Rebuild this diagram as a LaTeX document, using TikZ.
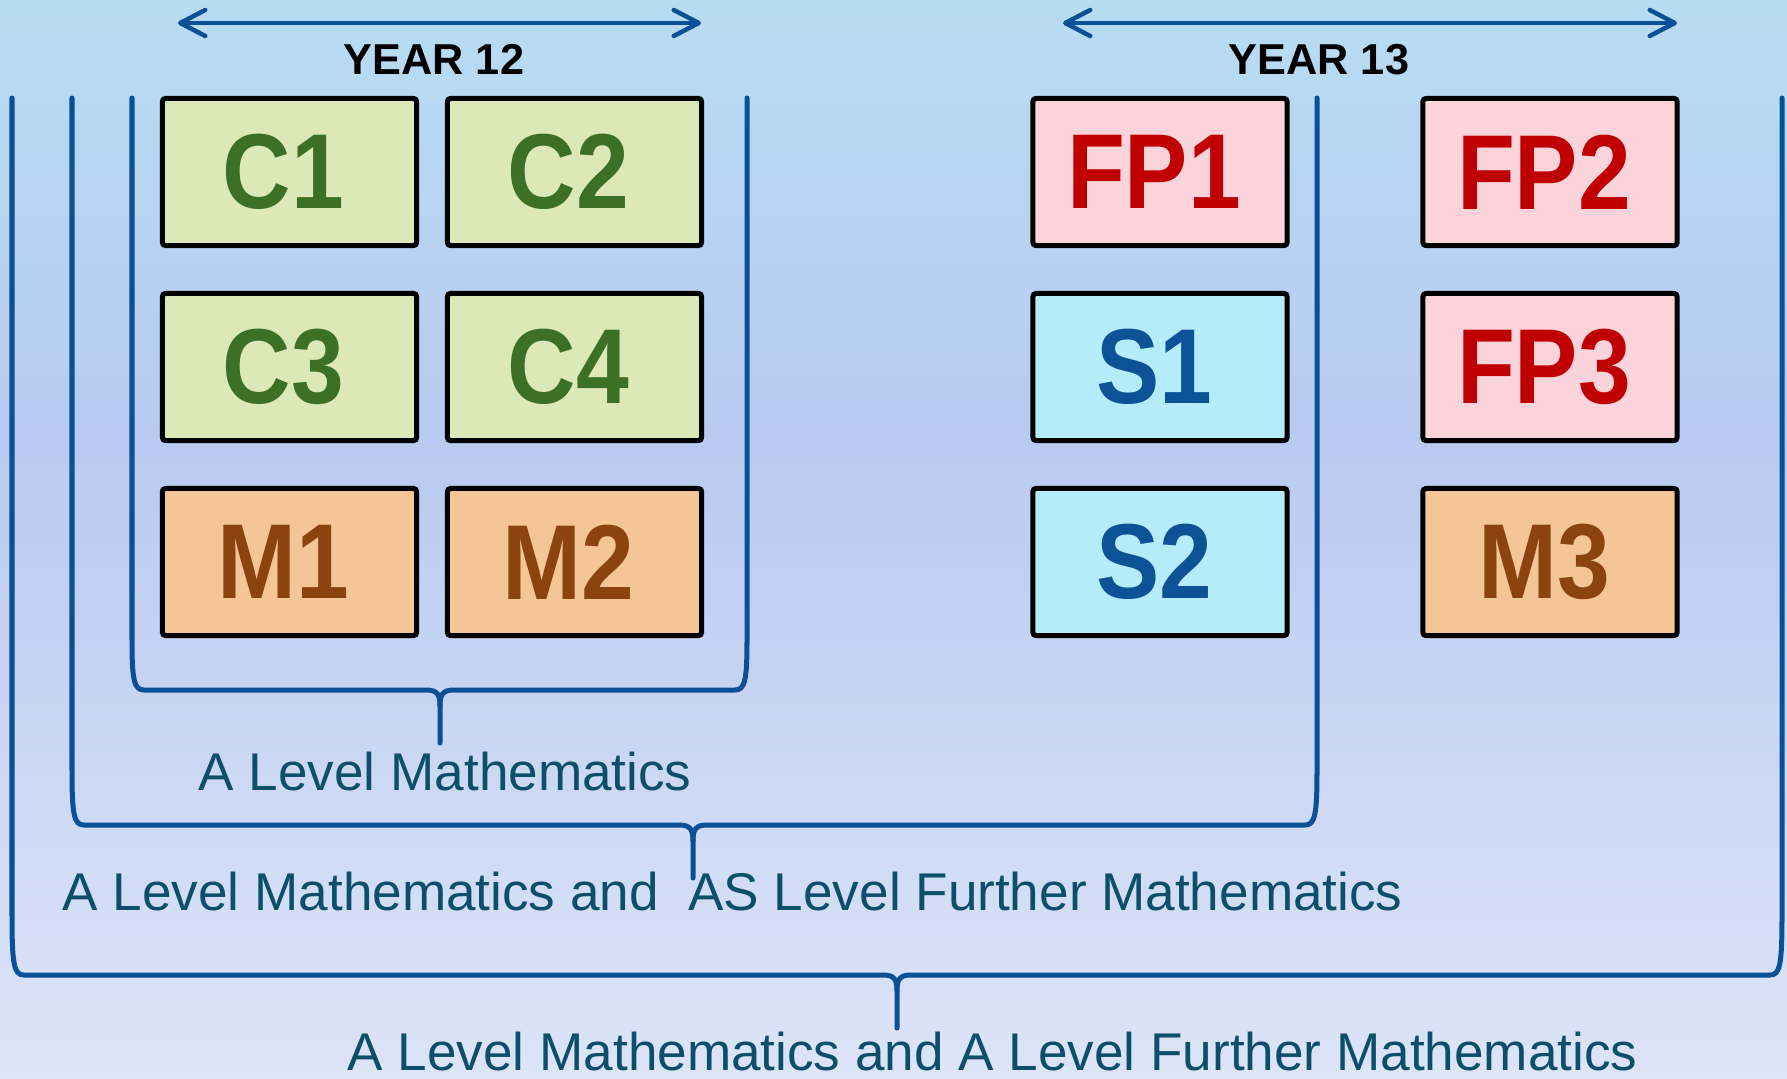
\documentclass[tikz,border=0pt]{standalone}
\usepackage{fontspec}
\setmainfont{Liberation Sans}
\newfontfamily\boxfont[FakeStretch=0.89]{Liberation Sans}
\usetikzlibrary{arrows.meta}
\definecolor{bgtop}{RGB}{183,221,242}
\definecolor{bgmid}{RGB}{184,202,240}
\definecolor{bgbot}{RGB}{221,228,248}
\definecolor{brblue}{RGB}{10,80,150}
\definecolor{labteal}{RGB}{11,80,104}
\definecolor{gfill}{RGB}{221,232,185}
\definecolor{gtext}{RGB}{59,112,38}
\definecolor{pfill}{RGB}{251,211,218}
\definecolor{ptext}{RGB}{192,0,0}
\definecolor{cfill}{RGB}{181,236,250}
\definecolor{ctext}{RGB}{13,82,150}
\definecolor{ofill}{RGB}{244,197,149}
\definecolor{otext}{RGB}{139,68,16}
\pgfdeclareverticalshading{bgshade}{100bp}{color(0bp)=(bgbot); color(25bp)=(bgbot); color(55bp)=(bgmid); color(75bp)=(bgtop); color(100bp)=(bgtop)}
\tikzset{
  modbox/.style={draw=black, line width=0.05cm, rounded corners=0.03cm,
    minimum width=2.54cm, minimum height=1.47cm, inner sep=0pt,
    font=\fontsize{30.3}{36}\boxfont\bfseries,
    execute at end node={\hspace*{0.12cm}}},
  greenbox/.style={modbox, fill=gfill, text=gtext},
  pinkbox/.style={modbox, fill=pfill, text=ptext},
  cyanbox/.style={modbox, fill=cfill, text=ctext},
  orangebox/.style={modbox, fill=ofill, text=otext},
  yearlabel/.style={anchor=base, inner sep=0pt, font=\fontsize{12.3}{14}\selectfont\bfseries, text=black},
  bracelabel/.style={anchor=base west, inner sep=0pt, font=\fontsize{15.1}{18}\selectfont, text=labteal},
  bracket/.style={draw=brblue, line width=0.05cm, line cap=round, line join=round},
  yeararrow/.style={draw=brblue, line width=0.045cm, line cap=round,
    {Straight Barb[length=0.25cm, width=0.26cm, round]}-{Straight Barb[length=0.25cm, width=0.26cm, round]}}
}
\begin{document}
\begin{tikzpicture}[x=0.01cm, y=-0.01cm]
\useasboundingbox (0,0) rectangle (1787,1078);
\shade[shading=bgshade] (0,0) rectangle (1787,1078);

% year arrows
\coordinate (y12a) at (178,23);
\coordinate (y12b) at (701,23);
\coordinate (y13a) at (1063,23);
\coordinate (y13b) at (1677,23);
\draw[yeararrow] (y12a) -- (y12b);
\draw[yeararrow] (y13a) -- (y13b);
\node[yearlabel] (year12) at (434,74) {YEAR 12};
\node[yearlabel] (year13) at (1319,74) {YEAR 13};

% brackets
\draw[bracket] (132,98) -- (132,640) .. controls (132,680) and (134,690) .. (144,690)
  -- (426,690) .. controls (437,690) and (440,694) .. (440,706) -- (440,743);
\draw[bracket] (440,706) .. controls (440,694) and (443,690) .. (454,690)
  -- (735,690) .. controls (745,690) and (747,680) .. (747,640) -- (747,98);

\draw[bracket] (72,98) -- (72,770) .. controls (72,815) and (74,825) .. (84,825)
  -- (679,825) .. controls (690,825) and (693,829) .. (693,841) -- (693,878);
\draw[bracket] (693,841) .. controls (693,829) and (696,825) .. (707,825)
  -- (1305,825) .. controls (1315,825) and (1317,815) .. (1317,770) -- (1317,98);

\draw[bracket] (12,98) -- (12,915) .. controls (12,965) and (14,975) .. (24,975)
  -- (883,975) .. controls (894,975) and (897,979) .. (897,991) -- (897,1028);
\draw[bracket] (897,991) .. controls (897,979) and (900,975) .. (911,975)
  -- (1770,975) .. controls (1780,975) and (1782,965) .. (1782,915) -- (1782,98);

% module boxes
\node[greenbox] (C1) at (289.5,172) {C1};
\node[greenbox] (C2) at (574.5,172) {C2};
\node[greenbox] (C3) at (289.5,367) {C3};
\node[greenbox] (C4) at (574.5,367) {C4};
\node[orangebox] (M1) at (289.5,562) {M1};
\node[orangebox] (M2) at (574.5,562) {M2};
\node[pinkbox] (FP1) at (1160,172) {FP1};
\node[cyanbox] (S1) at (1160,367) {S1};
\node[cyanbox] (S2) at (1160,562) {S2};
\node[pinkbox] (FP2) at (1550,172) {FP2};
\node[pinkbox] (FP3) at (1550,367) {FP3};
\node[orangebox] (M3) at (1550,562) {M3};

% bracket labels
\node[bracelabel] (lab1) at (198,790) {A Level Mathematics};
\node[bracelabel] (lab2) at (62,910) {A Level Mathematics and\ \ AS Level Further Mathematics};
\node[bracelabel] (lab3) at (347,1070) {A Level Mathematics and A Level Further Mathematics};
\end{tikzpicture}
\end{document}
